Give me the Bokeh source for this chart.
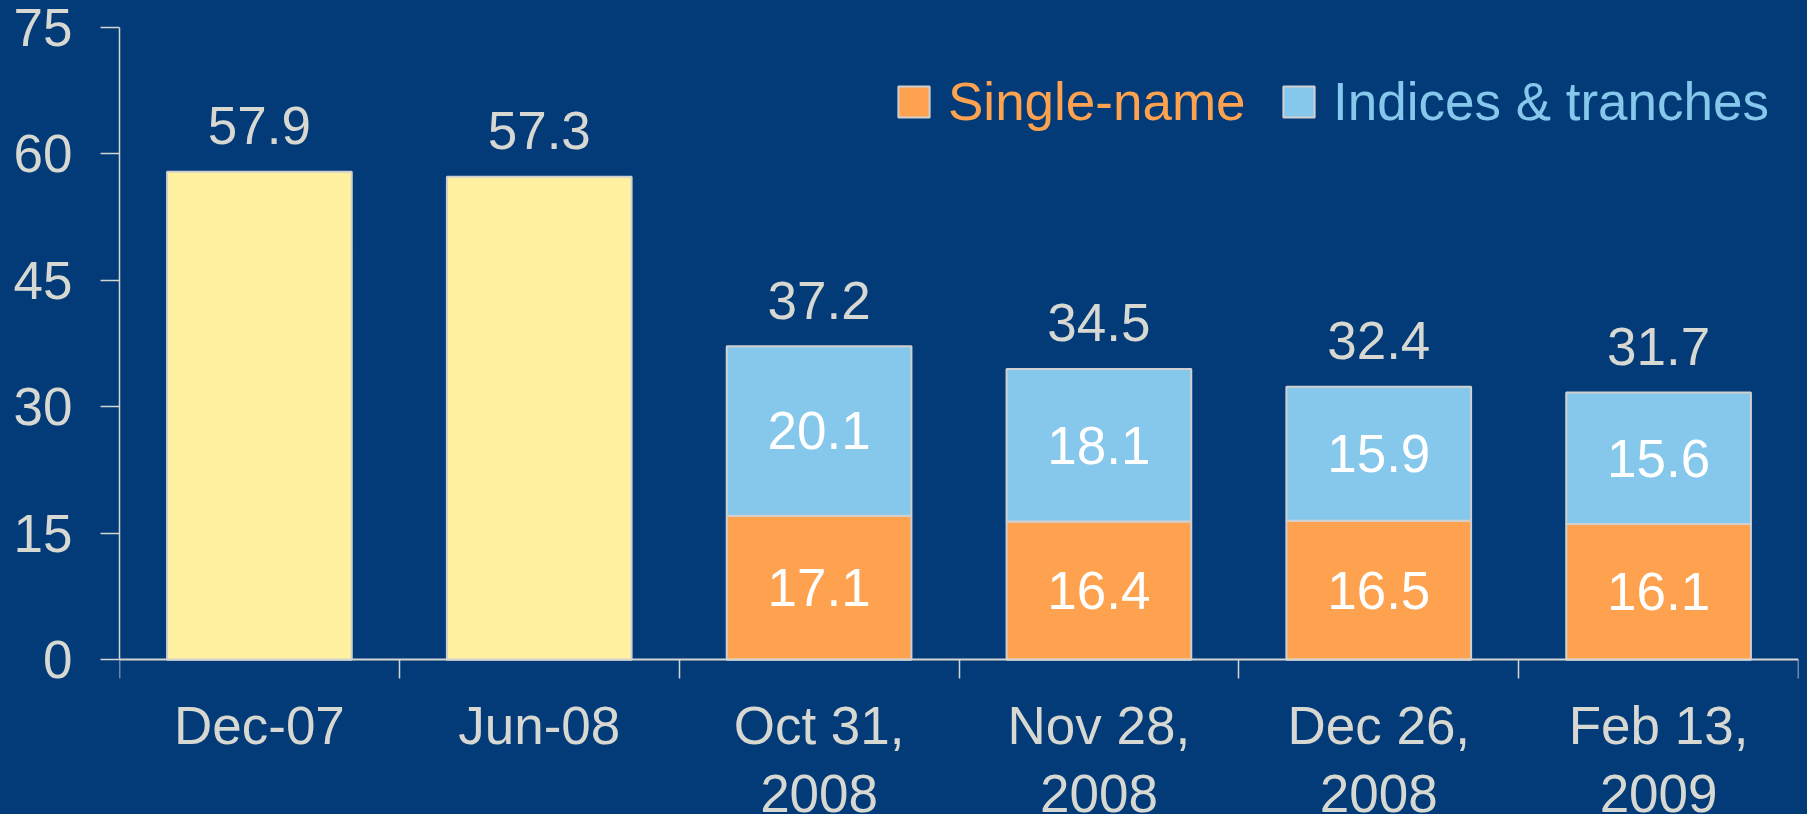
from bokeh.plotting import figure
from bokeh.models import Range1d, FixedTicker, Legend, LegendItem
from bokeh.embed import file_html
from bokeh.resources import INLINE
from bokeh.core.properties import value

# ---- data ----
categories = ["Dec-07", "Jun-08", "Oct 31, 2008", "Nov 28, 2008", "Dec 26, 2008", "Feb 13, 2009"]
tick_labels = ["Dec-07", "Jun-08", "Oct 31,\n2008", "Nov 28,\n2008", "Dec 26,\n2008", "Feb 13,\n2009"]
totals = [57.9, 57.3, 37.2, 34.5, 32.4, 31.7]
total_only_categories = ["Dec-07", "Jun-08"]
total_only_values = [57.9, 57.3]
stacked_categories = ["Oct 31, 2008", "Nov 28, 2008", "Dec 26, 2008", "Feb 13, 2009"]
single_name = [17.1, 16.4, 16.5, 16.1]
indices_tranches = [20.1, 18.1, 15.9, 15.6]
y_ticks = [0, 15, 30, 45, 60, 75]

# ---- style ----
BG = "#023B78"
YELLOW = "#FFF1A0"
ORANGE = "#FFA24F"
LIGHTBLUE = "#85C8EB"
OUTLINE = "#D0D0D0"
AXIS = "#D6D6D0"
LABEL = "#D8D8D2"
FONT = "Liberation Sans"
FS = "53px"
BAR_W = 0.66

pos = {c: i + 0.5 for i, c in enumerate(categories)}

# y range extends below zero to leave room for the category labels inside the frame
p = figure(width=1807, height=814, x_range=Range1d(0, len(categories)), y_range=Range1d(-18.35, 75),
           output_backend="svg", toolbar_location=None,
           min_border_left=119, min_border_right=9, min_border_top=27, min_border_bottom=0,
           background_fill_color=None, border_fill_color=None, outline_line_color=None)
p.styles = {"background-color": BG}
p.xgrid.visible = False
p.ygrid.visible = False

# y axis
ya = p.yaxis[0]
ya.ticker = FixedTicker(ticks=y_ticks, minor_ticks=[])
ya.bounds = (0, 75)
ya.major_tick_out = 19
ya.major_tick_in = 0
ya.minor_tick_out = 0
ya.minor_tick_in = 0
ya.axis_line_color = AXIS
ya.axis_line_width = 1.5
ya.major_tick_line_color = AXIS
ya.major_tick_line_width = 1.5
ya.major_label_text_color = LABEL
ya.major_label_text_font = FONT
ya.major_label_text_font_size = FS
ya.major_label_standoff = 28

# x axis at y=0: ticks at category boundaries only
xa = p.xaxis[0]
xa.fixed_location = 0
xa.ticker = FixedTicker(ticks=[], minor_ticks=list(range(len(categories) + 1)))
xa.major_tick_out = 0
xa.major_tick_in = 0
xa.minor_tick_out = 19
xa.minor_tick_in = 0
xa.minor_tick_line_color = AXIS
xa.minor_tick_line_width = 1.5
xa.axis_line_color = AXIS
xa.axis_line_width = 2
xa.major_label_text_font_size = "0px"

# total-only bars
p.vbar(x=[pos[c] for c in total_only_categories], top=total_only_values, width=BAR_W,
       fill_color=YELLOW, line_color=OUTLINE, line_width=2)

# stacked bars
sx = [pos[c] for c in stacked_categories]
stack_top = [a + b for a, b in zip(single_name, indices_tranches)]
r_single = p.vbar(x=sx, bottom=0, top=single_name, width=BAR_W,
                  fill_color=ORANGE, line_color=OUTLINE, line_width=2)
r_idx = p.vbar(x=sx, bottom=single_name, top=stack_top, width=BAR_W,
               fill_color=LIGHTBLUE, line_color=OUTLINE, line_width=2)

# total labels
p.text(x=[pos[c] for c in categories], y=totals, text=[f"{v:.1f}" for v in totals],
       y_offset=-46, text_align="center", text_baseline="alphabetic",
       text_font=value(FONT), text_font_size=FS, text_color=LABEL)

# segment labels
p.text(x=sx, y=[v / 2 for v in single_name], text=[f"{v:.1f}" for v in single_name],
       text_align="center", text_baseline="middle",
       text_font=value(FONT), text_font_size=FS, text_color="white")
p.text(x=sx, y=[a + b / 2 for a, b in zip(single_name, indices_tranches)],
       text=[f"{v:.1f}" for v in indices_tranches],
       text_align="center", text_baseline="middle",
       text_font=value(FONT), text_font_size=FS, text_color="white")

# category labels (below the zero line)
p.text(x=[pos[c] for c in categories], y=[0] * len(categories), text=tick_labels,
       y_offset=36, text_align="center", text_baseline="top", text_line_height=1.15,
       text_font=value(FONT), text_font_size=FS, text_color=LABEL)

# legends (one per item so each label can take its own colour)
def make_legend(label, renderer, color, loc):
    return Legend(items=[LegendItem(label=label, renderers=[renderer])], location=loc,
                  label_text_color=color, label_text_font=FONT, label_text_font_size=FS,
                  glyph_width=39, glyph_height=39, label_standoff=15, padding=0, margin=0,
                  spacing=0, background_fill_alpha=0, border_line_alpha=0)

p.add_layout(make_legend("Single-name", r_single, ORANGE, (775, 682)))
p.add_layout(make_legend("Indices & tranches", r_idx, LIGHTBLUE, (1160, 682)))

open("out.html", "w").write(file_html(p, INLINE))
